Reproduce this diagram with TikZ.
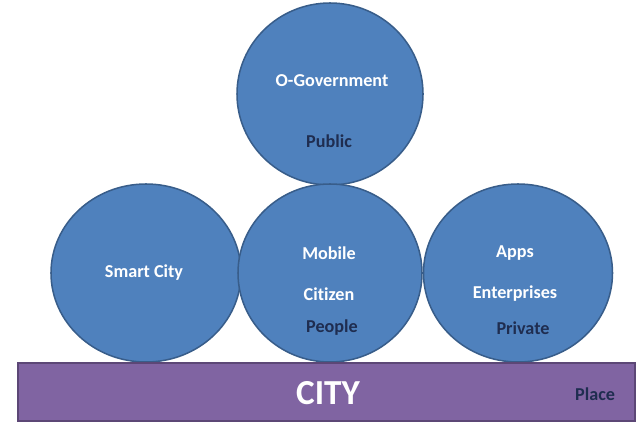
\documentclass[tikz,border=0pt]{standalone}
\usepackage{fontspec}
\setmainfont[Ligatures=NoCommon]{Carlito}
\usetikzlibrary{shapes.geometric,positioning}
\definecolor{ballblue}{HTML}{4F81BD}
\definecolor{balledge}{HTML}{385D8A}
\definecolor{cityfill}{HTML}{8064A2}
\definecolor{cityedge}{HTML}{5C4776}
\definecolor{darktext}{HTML}{1F2D50}
\tikzset{
  ball/.style={draw=balledge, fill=ballblue, ellipse, inner sep=0pt, minimum height=5.34cm},
  label/.style={text=white, font=\bfseries\fontsize{15.5}{18}\selectfont, inner sep=0pt},
  dark/.style={label, text=darktext}
}
\begin{document}
\begin{tikzpicture}[x=0.03cm, y=-0.03cm, line width=1.3pt]
        \useasboundingbox (0, 0) rectangle (644, 423);
        \node (gov) at (330, 94) [ball, minimum width=5.58cm, minimum height=5.46cm] {};
        \node (smart) at (146, 273) [ball, minimum width=5.7cm] {};
        \node (mobile) at (330, 273) [ball, minimum width=5.52cm] {};
        \node (apps) at (518, 273) [ball, minimum width=5.67cm] {};
        \node (city) at (326.5, 392) [draw=cityedge, fill=cityfill, inner sep=0pt,
            minimum width=18.51cm, minimum height=1.74cm] {};
        % texts inside the balls
        \node (govname) at ([xshift=0.06cm, yshift=0.39cm]gov.center) [label] {O-Government};
        \node (public) at ([xshift=-0.03cm, yshift=-1.41cm]gov.center) [dark] {Public};
        \node (smartname) at ([xshift=-0.06cm]smart.center) [label] {Smart City};
        \node (mobilename) at ([xshift=-0.03cm, yshift=0.6cm]mobile.center) [label] {Mobile};
        \node (citizen) at ([xshift=-0.03cm, yshift=-0.63cm]mobile.center) [label] {Citizen};
        \node (people) at ([xshift=0.06cm, yshift=-1.65cm]mobile.center) [dark] {People};
        \node (appsname) at ([xshift=-0.09cm, yshift=0.6cm]apps.center) [label] {Apps};
        \node (enterprises) at ([xshift=-0.09cm, yshift=-0.63cm]apps.center) [label] {Enterprises};
        \node (private) at ([xshift=0.15cm, yshift=-1.65cm]apps.center) [dark] {Private};
        % the city bar
        \node (cityname) at ([xshift=0.045cm, yshift=-0.03cm]city.center) [label, font=\bfseries\fontsize{30}{34}\selectfont] {CITY};
        \node (place) [left=0.6cm] at ([yshift=-0.06cm]city.east) [dark] {Place};
\end{tikzpicture}
\end{document}
